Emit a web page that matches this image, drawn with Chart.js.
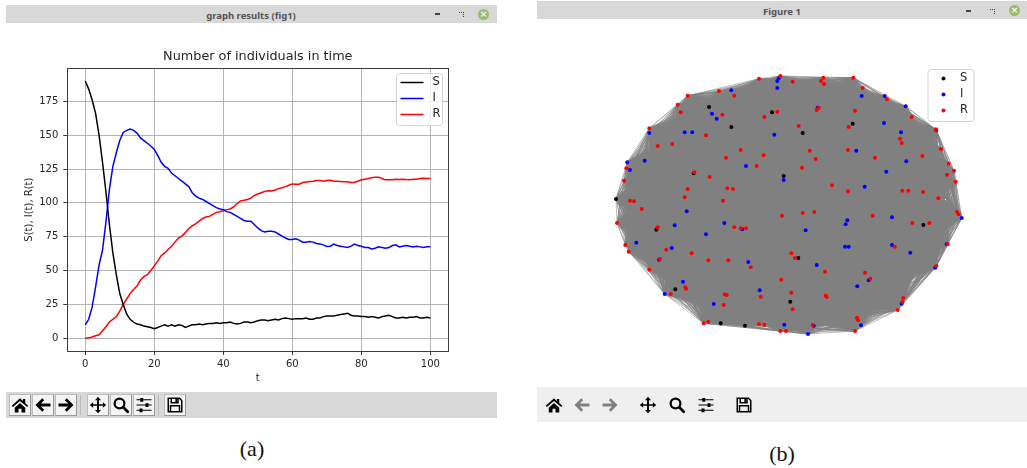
<!DOCTYPE html>
<html>
<head>
<meta charset="utf-8">
<title>SIR results</title>
<script src="https://cdn.jsdelivr.net/npm/chart.js@4/dist/chart.umd.min.js"></script>
<style>
  html,body{margin:0;padding:0;background:#fff;}
  body{position:relative;width:1027px;height:468px;overflow:hidden;}
  canvas{position:absolute;}
  .bar{position:absolute;background:#d8d8d8;}
  .wintitle{position:absolute;transform:translate(-50%,-50%);font:bold 9.5px "Noto Sans",sans-serif;color:#555;white-space:nowrap;}
  .caption{position:absolute;transform:translate(-50%,-50%);font:22px "Liberation Serif",serif;color:#111;}
  .ic{position:absolute;width:18px;height:18px;color:#000;}
  .ic.off{color:#808080;}
  .btn{position:absolute;top:395px;width:20px;height:20px;background:#f4f4f4;border:1px solid #bdbdbd;border-right-color:#999;border-bottom-color:#999;box-sizing:content-box;margin:-1px 0 0 0;}
  .btn svg{position:absolute;left:1px;top:1px;width:18px;height:18px;color:#000;}
  .sep{position:absolute;width:1px;top:395px;height:20px;background:#bbb;}
  .min{position:absolute;width:5px;height:2px;background:#444;}
  .rest{position:absolute;width:4px;height:4px;border-top:1px dotted #444;border-right:1px dotted #444;}
  .close{position:absolute;width:11px;height:11px;border-radius:50%;background:#9dbb6e;color:#fff;font:bold 9px/11px "DejaVu Sans",sans-serif;text-align:center;}
</style>
</head>
<body>
<svg width="0" height="0" style="position:absolute">
  <symbol id="home" viewBox="0 0 24 24"><path fill="currentColor" d="M12 3 1 13l1.500 1.700L12 6.500l9.500 8.200L23 13l-4-3.600V4h-3v2.800zM5 15.500V22h5v-5h4v5h5v-6.500L12 9.300z"/></symbol>
  <symbol id="back" viewBox="0 0 24 24"><path fill="currentColor" d="M11 3 2 12l9 9 2.600-2.600L9.200 14H22v-4H9.200l4.400-4.400z"/></symbol>
  <symbol id="fwd" viewBox="0 0 24 24"><path fill="currentColor" d="m13 3 9 9-9 9-2.600-2.600 4.400-4.400H2v-4h12.800l-4.400-4.400z"/></symbol>
  <symbol id="move" viewBox="0 0 24 24"><path fill="currentColor" d="m12 1 4 4.500h-2.700V11h5.200V8.200L23 12l-4.500 3.800V13h-5.200v5.500H16L12 23l-4-4.500h2.700V13H5.500v2.800L1 12l4.500-3.800V11h5.200V5.500H8z"/></symbol>
  <symbol id="zoom" viewBox="0 0 24 24"><path fill="none" stroke="currentColor" stroke-width="3" d="M10 3.500a6.500 6.500 0 1 0 0 13 6.500 6.500 0 0 0 0-13z"/><path stroke="currentColor" stroke-width="3.600" stroke-linecap="round" d="m15 15 6 6"/></symbol>
  <symbol id="conf" viewBox="0 0 24 24"><path stroke="currentColor" stroke-width="1.600" d="M2 5h20M2 12h20M2 19h20"/><path fill="currentColor" d="M7 2.500h4v5H7zM14 9.500h4v5h-4zM6 16.500h4v5H6z"/></symbol>
  <symbol id="save" viewBox="0 0 24 24"><path fill="none" stroke="currentColor" stroke-width="2" d="M3 3h15l3 3v15H3z"/><path fill="none" stroke="currentColor" stroke-width="2" d="M7 3v6h9V3M6 21v-8h12v8"/><path fill="currentColor" d="M12.500 4h2.500v4h-2.500z"/></symbol>
</svg>

<!-- window (a) -->
<div class="bar" style="left:6px;top:5px;width:491px;height:18px"></div>
<div class="wintitle" style="left:251px;top:15px">graph results (fig1)</div>
<div class="min" style="left:435px;top:13px"></div>
<div class="rest" style="left:459px;top:12px"></div>
<div class="close" style="left:478px;top:9px">×</div>
<canvas id="chartCurves" width="510" height="368" style="left:0;top:24px"></canvas>
<div class="bar" style="left:6px;top:392px;width:491px;height:26px"></div>
<div class="btn" style="left:9px"><svg><use href="#home"/></svg></div>
<div class="btn" style="left:32px"><svg><use href="#back"/></svg></div>
<div class="btn" style="left:55px"><svg><use href="#fwd"/></svg></div>
<div class="sep" style="left:80px"></div>
<div class="btn" style="left:87px"><svg><use href="#move"/></svg></div>
<div class="btn" style="left:110px"><svg><use href="#zoom"/></svg></div>
<div class="btn" style="left:133px"><svg><use href="#conf"/></svg></div>
<div class="sep" style="left:158px"></div>
<div class="btn" style="left:164px"><svg><use href="#save"/></svg></div>
<div class="caption" style="left:252px;top:449px">(a)</div>

<!-- window (b) -->
<div class="bar" style="left:537px;top:1px;width:490px;height:18px"></div>
<div class="wintitle" style="left:782px;top:11px">Figure 1</div>
<div class="min" style="left:966px;top:10px"></div>
<div class="rest" style="left:990px;top:9px"></div>
<div class="close" style="left:1009px;top:5px">×</div>
<canvas id="chartNetwork" width="490" height="365" style="left:537px;top:20px"></canvas>
<div class="bar" style="left:537px;top:387px;width:490px;height:35px;background:#efefef"></div>
<svg class="ic" style="left:545px;top:396px"><use href="#home"/></svg>
<svg class="ic off" style="left:573px;top:396px"><use href="#back"/></svg>
<svg class="ic off" style="left:601px;top:396px"><use href="#fwd"/></svg>
<svg class="ic" style="left:639px;top:396px"><use href="#move"/></svg>
<svg class="ic" style="left:668px;top:396px"><use href="#zoom"/></svg>
<svg class="ic" style="left:697px;top:396px"><use href="#conf"/></svg>
<svg class="ic" style="left:735px;top:396px"><use href="#save"/></svg>
<div class="caption" style="left:782px;top:454px">(b)</div>

<script>
// Curves over time, one value per t
const tValues = [];
for(let t=0;t<=100;t++) tValues.push(t);

const sValues = [190,184,176,166,150,130,108,84,63,47,33,25,18,14,12,10.5,10,9,8.5,8,7,8,9,10,9,10,9,10,9.5,8,9,10,10,10.5,10,10.5,11,11,11.5,11,11.5,11.5,12,11,10.5,11,12,12,11.5,12,13,13.5,13.5,13,13.5,14,13.5,14.5,15,14.5,14,14.5,14.5,14.5,15,14,14,15,15,16,16.5,16.5,16.5,17,17.5,18,18.5,17,16.5,16.5,16,16,15.5,16,15.5,15,16,16.5,17,16,15,15,15.5,15,15.5,15.5,16,15,15,15.5,15];
const iValues = [10,14,23,38,54,65,86,110,127,137,146,152,153.5,154.5,153.5,151.5,148,146,144,142,139.5,135,130,127,125.5,122,120,118,116,114,112,107.5,105,103.5,102.5,101,99.5,98,96.5,95.5,95,93.5,93,91.5,90,88.5,87,86.5,86.5,84,81.5,79.5,78.5,79,79,78.5,77,75.5,74,73,73,73.5,72.5,71,71,71.5,71,70,69.7,69,67.8,68,69.5,68.5,68,67.5,67,68,69.5,68.5,68,67,67,66,66.5,67.5,67,66.5,67,68.5,69,67.5,68,68.5,68,67.5,68,67.5,67,67.5,67.5];
const rValues = [0,0.3,1,1.8,2.6,5.5,8.5,12,14,16,20,25,29,33,36,38.5,43,45.5,47,50,53.5,57,61,63,65.5,68,71,74,75.5,78,81,83,84.5,86.5,88.5,89.5,90,91.5,93,93.5,94.2,95,95.5,97,99.5,101.5,102,102.5,103.5,105.5,106.5,107.5,108.5,109,108.7,109.5,110.5,111.2,112,113,114,113.8,113.8,115,115.4,115.7,115.9,116.5,116.5,116,116.5,116.7,116,116,115.7,115.5,115.5,115,115.2,116,117,117.5,118,118.5,119,119,118,117,117,117,117.5,117.3,117.5,117.2,117,117.5,117.5,118,118.2,118,118];

const seriesNames = ["S","I","R"];
const seriesColors = ["#000000","#0000ff","#ff0000"];
const xTickStep = 20;
const yTickStep = 25;

// Network nodes, layout units [x, y] by state
const sNodes = [[-81,98],[-18,92.7],[-58.7,78],[-96.3,31.7],[-6.3,29],[-174,6],[62.7,81.3],[12.7,72],[-133.7,-24.7],[8.3,-53],[-114.7,-84.3],[0.3,-96.7],[-69.3,-118.3],[-45,-120.7],[133.3,-20]];
const iNodes = [[-11.3,126.7],[-12.7,124],[-12.7,117],[-58.7,114.7],[-78,91.3],[-73.3,86.3],[-140.7,72],[-105.3,72.7],[-97.7,72.7],[-15.7,70.3],[-162.7,42.7],[-145.3,44.3],[-160,35],[-44,39],[-6.3,25],[27.7,97.3],[71.7,109],[94.7,109],[115.7,98.7],[94,82],[111,72.7],[146.3,75],[66.3,54.3],[116.3,43.7],[96.3,33.3],[74.7,18.3],[-103.3,-6.3],[-115.3,-20.3],[-65.7,-18],[-84,-29.3],[-47.7,-24.3],[-153.7,-37.7],[-118.3,-43],[-131,-54.7],[-41.7,-57],[-107,-76.7],[-125.3,-89],[-30.3,-85.3],[-76.3,-99],[-5.7,-119.7],[171.7,-13],[57.3,-15.3],[55.7,-19.3],[102,-12.3],[15.7,-25.3],[55,-41.7],[58.7,-41.7],[102,-40],[120.3,-47.7],[156.7,-39.3],[26.7,-60],[78.7,-75.3],[145.3,-62.7],[67.3,-81.3],[111.7,-98.7],[71,-120.3],[23.7,-120.7],[18,-129]];
const rNodes = [[-31,126.3],[-9.7,129],[2.7,123.3],[-71,114],[-55.7,109.3],[-102.3,109.3],[-112.3,100.3],[-109.3,92.7],[-67.7,90.3],[-25.7,88],[-12.7,93.3],[-140.7,76.7],[8.7,79],[-84,69.7],[-132.3,59],[-117.7,61],[-49.3,55],[-64,47.3],[-26.3,49.7],[-33.3,39],[-163.7,36.7],[-95.7,32.7],[-80.3,28],[-166,24.3],[-102.3,16],[-62.7,16.7],[-57,16],[-105.3,7.7],[-67,4.3],[-160,4.3],[-156,3.7],[-148.3,-4],[33.3,127.3],[31,124],[34,121],[63.3,127.3],[72.7,117],[97,105.7],[28.7,97.3],[26.7,95],[65,94.3],[121.7,88],[58.7,78],[145.7,75.7],[110,66.3],[111.7,62],[19.7,54.3],[58,55],[25.7,46],[85,47.3],[151,56],[132.3,49],[158.7,41.3],[12,37.3],[164,34.3],[157,30.3],[165.7,23.3],[42,19.7],[58,13.7],[112.3,14.3],[118.3,14.3],[133,13],[148.3,6.7],[-8,-10.7],[-173,-18],[-132.3,-22.3],[-55.7,-22.3],[-49.3,-23.3],[-44,-23.3],[-164.7,-40],[-161.3,-46.7],[-123.7,-44.7],[-98.3,-48.3],[1.3,-48.3],[5,-53],[-130,-54],[-81.7,-55.3],[-61.7,-55.3],[-39.3,-62.3],[-140.7,-64.7],[-8.7,-74.7],[-104.7,-82.3],[-104,-83.7],[1.3,-87.7],[-119.3,-89],[-65.3,-89.3],[-63.3,-90],[-29.3,-91.7],[-66.3,-100],[2.7,-104.3],[-81.7,-116.7],[-86.3,-118.3],[-31,-119],[-25.7,-119.7],[-9.7,-126],[-4,-126],[12.7,-8],[24.3,-7],[82.7,-10.7],[167,-7],[168.7,-9.3],[122.3,-18],[139.3,-18],[104.7,-41.7],[157.7,-39.3],[35,-66.7],[75,-67.7],[80.3,-73.7],[146.3,-61],[35.7,-90.7],[36.7,-92],[113.3,-93],[112.3,-97],[107.7,-105],[67,-112.7],[68,-115],[22.7,-120],[65,-126]];

const FONT = '"DejaVu Sans", sans-serif';
const TEXT = "#262626";

const toPoints = arr => arr.map(p=>({x:p[0],y:p[1]}));

// the graph is almost fully connected: every node pair gets an edge, gaps between them
function buildEdges(nodes){
  const out = [];
  for(let a=0;a<nodes.length;a++){
    for(let b=a+1;b<nodes.length;b++){
      out.push({x:nodes[a][0],y:nodes[a][1]},{x:nodes[b][0],y:nodes[b][1]},{x:NaN,y:NaN});
    }
  }
  return out;
}

// Matplotlib style legend box, opts.box in canvas pixels
const boxLegend = {
  id:"boxLegend",
  afterDatasetsDraw(chart,args,opts){
    const ctx = chart.ctx, b = opts.box;
    ctx.save();
    ctx.beginPath();
    ctx.roundRect(b.x,b.y,b.w,b.h,3);
    ctx.fillStyle = "rgba(255,255,255,0.8)";
    ctx.strokeStyle = "#d4d4d4";
    ctx.lineWidth = 1;
    ctx.fill();
    ctx.stroke();
    seriesNames.forEach((name,i)=>{
      const y = b.y + opts.firstRow + i*opts.rowGap;
      if(opts.marker==="line"){
        ctx.strokeStyle = seriesColors[i];
        ctx.lineWidth = 1.5;
        ctx.beginPath();
        ctx.moveTo(b.x+4,y);
        ctx.lineTo(b.x+27,y);
        ctx.stroke();
      } else {
        ctx.fillStyle = seriesColors[i];
        ctx.beginPath();
        ctx.arc(b.x+15.5,y,2,0,Math.PI*2);
        ctx.fill();
      }
      ctx.fillStyle = TEXT;
      ctx.font = "11.5px "+FONT;
      ctx.textAlign = "left";
      ctx.textBaseline = "middle";
      ctx.fillText(name,b.x+opts.textX,y);
    });
    ctx.restore();
  }
};

// full box around the plot, Chart.js only gives the two axis lines
const plotFrame = {
  id:"plotFrame",
  afterDraw(chart,args,opts){
    if(!opts.color)return;
    const a = chart.chartArea, ctx = chart.ctx;
    ctx.save();
    ctx.strokeStyle = opts.color;
    ctx.lineWidth = 1;
    ctx.strokeRect(Math.round(a.left)+0.5,Math.round(a.top)+0.5,Math.round(a.width),Math.round(a.height));
    ctx.restore();
  }
};

Chart.register(boxLegend,plotFrame);

document.addEventListener("DOMContentLoaded", ()=>{
  new Chart(document.getElementById("chartCurves").getContext("2d"),{
    type:"line",
    data:{
      labels:tValues,
      datasets:[sValues,iValues,rValues].map((vals,i)=>({
        label:seriesNames[i],
        data:vals.map((v,k)=>({x:tValues[k],y:v})),
        borderColor:seriesColors[i],
        borderWidth:1.5,
        pointRadius:0,
        tension:0
      }))
    },
    options:{
      responsive:false,
      animation:false,
      layout:{autoPadding:false,padding:{left:20,right:61.7,top:0,bottom:7}},
      plugins:{
        legend:{display:false},
        tooltip:{enabled:false},
        title:{
          display:true,
          fullSize:false,
          text:"Number of individuals in time",
          color:TEXT,
          font:{family:FONT,size:12.8,weight:"normal"},
          padding:{top:25,bottom:3.9}
        },
        boxLegend:{box:{x:396.5,y:49.5,w:46,h:52},marker:"line",firstRow:9,rowGap:16,textX:36},
        plotFrame:{color:"#3c3c3c"}
      },
      scales:{
        x:{
          type:"linear",
          min:-5.2,max:105.2,
          afterFit:s=>{s.height=34;},
          border:{display:false},
          grid:{color:"#b4b4b4",tickColor:"#3c3c3c",tickLength:4,lineWidth:1},
          ticks:{stepSize:xTickStep,includeBounds:false,maxRotation:0,color:TEXT,padding:3,font:{family:FONT,size:10}},
          title:{display:true,text:"t",color:TEXT,padding:{top:1,bottom:1},font:{family:FONT,size:10}}
        },
        y:{
          min:-9.4,max:199.4,
          afterFit:s=>{s.width=47.3;},
          border:{display:false},
          grid:{color:"#b4b4b4",tickColor:"#3c3c3c",tickLength:4,lineWidth:1},
          ticks:{stepSize:yTickStep,includeBounds:false,color:TEXT,padding:5,font:{family:FONT,size:10}},
          title:{display:true,text:"S(t), I(t), R(t)",color:TEXT,padding:{top:3,bottom:3},font:{family:FONT,size:10}}
        }
      }
    }
  });

  new Chart(document.getElementById("chartNetwork").getContext("2d"),{
    type:"scatter",
    data:{
      datasets:[
        {label:"edges",data:buildEdges(sNodes.concat(iNodes,rNodes)),showLine:true,borderColor:"#808080",borderWidth:0.5,pointRadius:0,order:4},
        {label:seriesNames[0],data:toPoints(sNodes),backgroundColor:seriesColors[0],pointRadius:2,pointBorderWidth:0,order:3},
        {label:seriesNames[1],data:toPoints(iNodes),backgroundColor:seriesColors[1],pointRadius:2,pointBorderWidth:0,order:2},
        {label:seriesNames[2],data:toPoints(rNodes),backgroundColor:seriesColors[2],pointRadius:2,pointBorderWidth:0,order:1}
      ]
    },
    options:{
      responsive:false,
      animation:false,
      layout:{autoPadding:false,padding:0},
      plugins:{
        legend:{display:false},
        tooltip:{enabled:false},
        boxLegend:{box:{x:391,y:49.5,w:46,h:52},marker:"dot",firstRow:9,rowGap:16,textX:32},
        plotFrame:{}
      },
      scales:{
        x:{type:"linear",display:false,min:-253,max:237},
        y:{type:"linear",display:false,min:-180,max:185}
      }
    }
  });
});
</script>
</body>
</html>
